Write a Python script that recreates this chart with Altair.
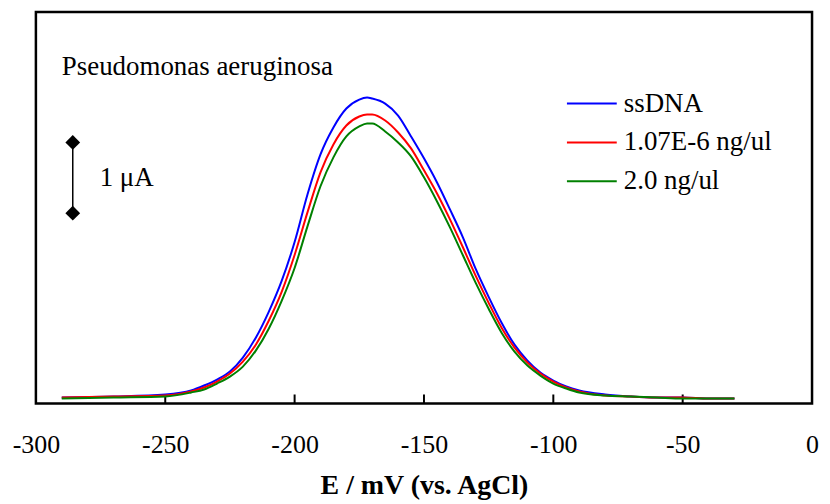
import altair as alt
import pandas as pd

# Potential (mV) grid
E = [-290, -270, -250, -240, -235, -230, -225, -220, -215, -210, -205, -200,
     -195, -190, -185, -180, -175, -172, -170, -165, -160, -155, -150, -145,
     -140, -135, -130, -125, -120, -115, -110, -105, -100, -95, -90, -80, -70,
     -60, -50, -40, -30]

# Current (arbitrary units)
ssdna = [6, 7, 9, 13, 18, 24, 32, 46, 66, 92, 123, 162, 210, 250, 277, 296,
         305, 307, 306, 301, 289, 268, 246, 222, 195, 167, 135, 107, 81, 59,
         43, 31, 23, 17, 13, 9, 7, 6, 6, 5, 5]
low = [6, 7, 8, 12, 16, 22, 30, 42, 59, 83, 112, 149, 192, 232, 260, 279,
       288, 290, 290, 284, 272, 256, 234, 211, 185, 157, 128, 101, 76, 56,
       41, 30, 22, 16, 12, 8, 7, 6, 6, 5, 5]
high = [5, 6, 7, 11, 14, 20, 27, 37, 53, 75, 103, 136, 178, 218, 247, 268,
        278, 281, 281, 273, 262, 248, 227, 203, 177, 149, 121, 95, 71, 52,
        38, 28, 20, 15, 11, 8, 7, 6, 5, 5, 5]

series_names = ["ssDNA", "1.07E-6 ng/ul", "2.0 ng/ul"]
series_colors = ["#0000ff", "#ff0000", "#008000"]
tick_values = [-300, -250, -200, -150, -100, -50, 0]
inner_ticks = [-250, -200, -150, -100, -50]

rows = []
for name, vals in zip(series_names, [ssdna, low, high]):
    for e, v in zip(E, vals):
        rows.append({"E": e, "I": v, "series": name})
df = pd.DataFrame(rows)

W, H = 779, 393
FONT = "Liberation Serif"

x_scale = alt.Scale(domain=[-300, 0], nice=False, zero=False)
y_scale = alt.Scale(domain=[0, 393], nice=False, zero=False)
x_axis = alt.Axis(values=tick_values, title="E / mV (vs. AgCl)", ticks=False,
                  domain=False, grid=False, labelFont=FONT, labelFontSize=26,
                  labelColor="black", labelPadding=28, labelFlush=False,
                  labelExpr="toString(datum.value)",
                  titleFont=FONT, titleFontSize=28, titleFontWeight="bold",
                  titleColor="black", titlePadding=14)
x_enc = alt.X("E:Q", scale=x_scale, axis=x_axis)

lines = alt.Chart(df).mark_line(strokeWidth=2, interpolate="monotone").encode(
    x=x_enc,
    y=alt.Y("I:Q", scale=y_scale, axis=None),
    color=alt.Color("series:N",
                    scale=alt.Scale(domain=series_names, range=series_colors),
                    sort=series_names,
                    legend=alt.Legend(title=None, orient="none", legendX=532,
                                      legendY=66, symbolType="stroke",
                                      symbolSize=2500, symbolStrokeWidth=2,
                                      labelFont=FONT, labelFontSize=27,
                                      labelColor="black", labelOffset=6,
                                      rowPadding=-12, padding=0,
                                      labelLimit=400)),
)

tick_df = pd.DataFrame({"E": inner_ticks, "lo": [0] * len(inner_ticks),
                        "hi": [9] * len(inner_ticks)})
ticks = alt.Chart(tick_df).mark_rule(color="black", strokeWidth=2).encode(
    x=x_enc,
    y=alt.Y("lo:Q", scale=y_scale, axis=None),
    y2="hi:Q")

one = pd.DataFrame({"k": [0]})
species = alt.Chart(one).mark_text(
    text="Pseudomonas aeruginosa", font=FONT, fontSize=27, align="left",
    baseline="alphabetic", color="black").encode(x=alt.value(26), y=alt.value(63))

unit = alt.Chart(one).mark_text(
    text="1 \u03bcA", font=FONT, fontSize=27, align="left",
    baseline="alphabetic", color="black").encode(x=alt.value(64), y=alt.value(175))

bar = alt.Chart(one).mark_rule(color="black", strokeWidth=1.5).encode(
    x=alt.value(37), y=alt.value(131), y2=alt.value(202))
d1 = alt.Chart(one).mark_point(shape="diamond", filled=True, color="black",
                               size=220, opacity=1).encode(
    x=alt.value(37), y=alt.value(131))
d2 = alt.Chart(one).mark_point(shape="diamond", filled=True, color="black",
                               size=220, opacity=1).encode(
    x=alt.value(37), y=alt.value(202))

chart = alt.layer(ticks, lines, species, unit, bar, d1, d2).properties(
    width=W, height=H,
    padding={"left": 28, "top": 3, "right": 10, "bottom": 100},
    autosize=alt.AutoSizeParams(type="none"),
).configure_view(stroke="black", strokeWidth=2.5)

chart.save("out.html", embed_options={"renderer": "svg", "actions": False})
